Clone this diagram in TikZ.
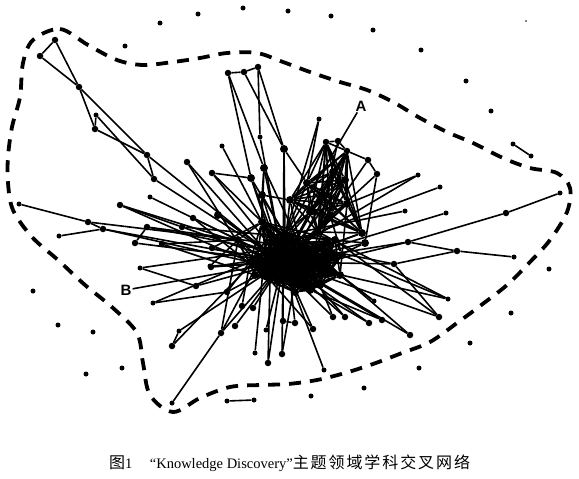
\documentclass[tikz,border=0pt]{standalone}
\usepackage{fontspec}
\setmainfont{Liberation Serif}
\setsansfont{Liberation Sans}
\newfontfamily\cjk{Noto Sans CJK SC}
\begin{document}
\begin{tikzpicture}[x=1pt,y=-1pt,
  edge/.style={line width=1.6pt,black},
  dots/.style={circle,fill=black,inner sep=0pt,minimum size=5pt},
  dotm/.style={circle,fill=black,inner sep=0pt,minimum size=6.5pt},
  dotb/.style={circle,fill=black,inner sep=0pt,minimum size=8pt},
  border/.style={line width=3.8pt,dash pattern=on 12pt off 9pt},
  lab/.style={font=\sffamily\bfseries\fontsize{15}{15}\selectfont,inner sep=1pt}]
\useasboundingbox (0,0) rectangle (579,479);
\fill[white] (0,0) rectangle (579,479);
% boundary
\draw[border] plot[smooth cycle,tension=0.55] coordinates {
(33,40) (60,29) (88,45) (117,60) (143,65) (173,62) (200,58) (227,53) (257,53) (283,62)
(310,72) (340,82) (367,90) (393,102) (420,118) (447,132) (473,143) (503,158) (530,168)
(557,173) (570,188) (567,212) (550,240) (530,262) (507,285) (480,306) (457,323) (430,342)
(402,353) (373,364) (345,373) (317,380) (288,384) (260,385) (230,387) (200,398) (173,412)
(150,395) (143,363) (137,333) (113,308) (85,285) (58,260) (32,237) (13,210) (8,183)
(8,157) (12,127) (20,97) (23,63)};
% core nodes
\node[dotb,minimum size=10pt] (c0) at (283,262) {};
\foreach \n/\x/\y in {c1/265/250,c2/300/245,c3/318/232,c4/295/280,c5/270/280,c6/325/262,
  c7/250/262,c8/307/183,c9/284/149,c10/264/168,c11/251/178,c12/347/204,c13/362/233,
  c14/365/243,c15/340/275,c16/310/290,c17/285/235,c18/262/222,c19/238/240,c20/218/215,
  c21/330/215,c22/345/180,c23/310/212,
  d1/275/270,d2/290/255,d3/300/265,d4/280/245,d5/255/275,d6/315/250,d7/305/275,
  d8/270/235,d9/320/285,d10/295/292,d11/335/240,d12/342/255,d13/262/195,d14/290/200,
  d15/322/195,d16/333/172}
  \node[dotb] (\n) at (\x,\y) {};
% peripheral medium nodes
\foreach \n/\x/\y in {p1/55/40,p2/40/56,p3/79/87,p5/95/129,p6/147/155,p7/154/179,
  t1/228/73,t2/244/72,t3/258/67,r2/326/142,r3/338/141,r4/347/151,r5/368/160,r6/377/174,
  r12/408/242,r14/457/251,r11/506/213,r16/394/264,s2/439/317,s3/410/335,s4/382/320,
  s5/369/323,s7/345/317,s8/333/317,s9/313/329,s13/282/354,s14/268/363,s17/253/308,
  s18/242/306,s19/235/326,s20/221/333,s21/227/292,s22/196/286,s24/172/346,
  l2/88/222,l4/103/229,l5/120/205,l7/135/243,l8/147/227,l9/162/244,l10/182/227,
  l11/193/218,l12/212/248,l13/211/267,q2/187/162,q3/212/173,s11/295/323,s12/283/321}
  \node[dotm] (\n) at (\x,\y) {};
% small leaves
\foreach \n/\x/\y in {p4/96/115,q1/222/146,q7/260/137,r1/319/119,r7/418/175,r8/440/187,
  r9/405/211,r10/446/213,r13/560/193,r15/514/257,s1/448/299,s6/374/301,s10/324/370,
  s15/255/353,s16/266/330,s23/179/331,s25/172/403,s26/153/303,s27/210/266,
  l1/19/204,l3/59/236,l6/150/197,l14/140/268}
  \node[dots] (\n) at (\x,\y) {};
% labels
\node[lab] (A) at (361,106) {A};
\node[lab] (B) at (126,290) {B};
% dense hub: all pairs
\foreach \a [count=\i] in {c0,c1,c2,c4,c5,c6,c7,c15,c16,c17,c18,d1,d2,d3,d4,d5,d6,d7,d8,d9,d10,d11,d12}{
  \foreach \b [count=\j] in {c0,c1,c2,c4,c5,c6,c7,c15,c16,c17,c18,d1,d2,d3,d4,d5,d6,d7,d8,d9,d10,d11,d12}{
    \ifnum\i<\j \draw[edge] (\a) -- (\b); \fi }}
% upper cluster: all pairs
\foreach \a [count=\i] in {c8,c23,c21,c22,c12,d14,d15,d16,c3,r2,r4,c13}{
  \foreach \b [count=\j] in {c8,c23,c21,c22,c12,d14,d15,d16,c3,r2,r4,c13}{
    \ifnum\i<\j \draw[edge] (\a) -- (\b); \fi }}
% other edges
\foreach \a/\b in {c0/c3,c0/c19,c0/c23,c0/c21,c8/c17,c9/c17,c10/c0,c11/c0,c10/c18,c9/c8,
  c13/c0,c14/c0,c14/c6,c19/c18,c20/c0,c20/c1,c11/c17,c10/c2,c9/c0,c23/c1,c22/c0,c12/c0,
  c19/c5,d13/c10,d13/d14,d13/c0,d13/c17,d14/c0,d14/c2,d15/c0,d16/d4,c13/d6,c14/d11,
  c3/d6,c3/d2,c3/d4,c23/d4,c23/d2,c21/d6,c21/d12,c18/d13,c11/d8,c19/d5,c19/d1,c12/d12,
  p1/p2,p1/p3,p2/p3,p3/p5,p3/p6,p4/p5,p4/p7,p5/p6,p6/c1,p7/c0,p6/p7,
  t1/t2,t2/t3,t1/c10,t1/c11,t2/c9,t3/q7,q7/c0,t3/c9,
  q1/c0,q2/c1,q2/c7,q3/c11,q3/c0,q3/c18,
  r1/c8,r1/c17,r2/r3,r3/r4,r3/c3,r4/c2,r5/r6,r5/r4,r5/c21,
  r6/c2,r6/c14,r7/c2,r8/c3,r9/c17,r10/c0,r7/c12,
  r12/c6,r12/c0,r12/r11,r11/r13,r12/r14,r14/r15,r16/r14,r16/c0,r16/c2,r16/s2,
  s1/c0,s1/c3,s2/c0,s3/c6,s3/c1,s4/c0,s5/c0,s6/c2,s6/c15,s7/c0,s8/c1,s9/c0,s10/c0,
  s11/c17,s11/s12,s12/c0,s13/c0,s14/c0,s15/c1,s16/c0,s17/c0,s18/c7,s19/c0,s20/c19,
  s20/c1,s21/c0,s21/c7,s22/c0,s23/s24,s23/c0,s24/c1,s25/s20,s20/c0,s26/s21,s26/c7,
  s27/c0,s27/c19,s4/c16,s5/c4,s9/c5,s13/c4,s14/c5,s7/d3,s8/d9,s1/d12,s2/d11,
  l1/l2,l2/l4,l3/l4,l4/c0,l4/c7,l5/c1,l5/c7,l5/l10,l6/c0,l7/l8,l7/c0,l8/c1,l9/c19,
  l10/c0,l11/c0,l11/c5,l12/c0,l13/c0,l14/s22,l14/c1,B/c0,l2/c19,l9/c5,l12/c18,
  l10/d8,l8/d4,l13/d2}
  \draw[edge] (\a) -- (\b);
\draw[edge] (A) -- (c17);
% isolated nodes
\foreach \n/\x/\y in {i1/160/23,i2/198/14,i3/243/8,i4/288/11,i5/125/46,i6/331/16,
  i7/373/30,i8/421/50,i9/466/81,i10/491/111,i11/33/291,i12/58/325,i13/93/332,
  i14/86/374,i15/122/368,i16/549/269,i17/511/313,i18/470/343,i19/419/368,
  i20/364/388,i21/311/396,e1/513/144,e2/531/156,e3/227/401,e4/254/400}
  \node[dots] (\n) at (\x,\y) {};
\node[circle,fill=black,inner sep=0pt,minimum size=1.8pt] (i22) at (526,21) {};
\draw[edge] (e1) -- (e2);
\draw[edge] (e3) -- (e4);
% caption
\node[anchor=west,inner sep=0pt] (cap) at (109,463)
  {{\cjk\fontsize{16}{16}\selectfont 图}{\fontsize{14.5}{15}\selectfont 1\hspace{1.2em}“Knowledge Discovery”}{\cjk\fontsize{16}{16}\selectfont\addfontfeature{LetterSpace=12} 主题领域学科交叉网络}};
\end{tikzpicture}
\end{document}
